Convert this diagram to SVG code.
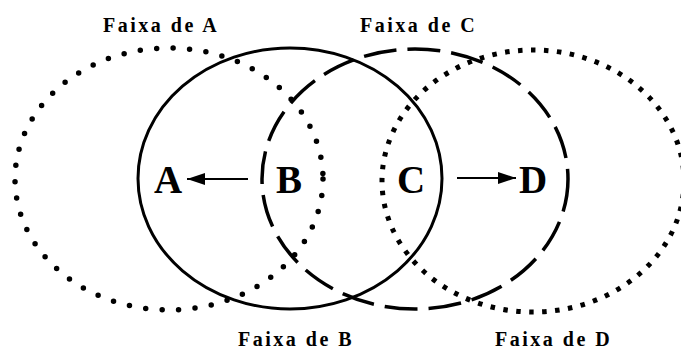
<svg xmlns="http://www.w3.org/2000/svg" width="681" height="349" viewBox="0 0 681 349">
<style>
.bg{fill:#fff}
.e{fill:none;stroke:#000}
.solid{stroke-width:3}
.dash{stroke-width:3.5;stroke-dasharray:33 11}
.dotA{stroke-width:5.5;stroke-dasharray:0 16.5;stroke-linecap:round}
.dotD{stroke-width:5;stroke-dasharray:4.5 8.5}
.big{font-family:"Liberation Serif","Times New Roman",serif;font-weight:bold;font-size:39px;text-anchor:middle;fill:#000}
.lbl{font-family:"Liberation Serif","Times New Roman",serif;font-weight:bold;font-size:20px;letter-spacing:2.5px;fill:#000}
.arr{stroke:#000;stroke-width:2;fill:none}
</style>
<defs>
<marker id="ah" viewBox="0 0 18 12" refX="18" refY="6" markerWidth="18" markerHeight="12" markerUnits="userSpaceOnUse" orient="auto">
<path d="M0,0 L18,6 L0,12 Z" fill="#000"/>
</marker>
</defs>
<rect class="bg" x="0" y="0" width="681" height="349"/>
<g id="faixa-a"><ellipse class="e dotA" cx="169" cy="179" rx="154" ry="131"/></g>
<g id="faixa-b"><ellipse class="e solid" cx="290" cy="178.5" rx="152" ry="130.5"/></g>
<g id="faixa-c"><ellipse class="e dash" cx="415" cy="179" rx="153" ry="130"/></g>
<g id="faixa-d"><ellipse class="e dotD" cx="533" cy="181" rx="151" ry="131"/></g>
<g id="connectors">
<line class="arr" x1="248" y1="179" x2="187" y2="179" marker-end="url(#ah)"/>
<line class="arr" x1="457" y1="178" x2="516" y2="178" marker-end="url(#ah)"/>
</g>
<g id="node-a"><text class="big" x="168" y="193">A</text></g>
<g id="node-b"><text class="big" x="289" y="193">B</text></g>
<g id="node-c"><text class="big" x="411" y="193">C</text></g>
<g id="node-d"><text class="big" x="533" y="193">D</text></g>
<g id="labels">
<text class="lbl" x="103" y="32">Faixa de A</text>
<text class="lbl" x="360" y="32">Faixa de C</text>
<text class="lbl" x="238" y="346">Faixa de B</text>
<text class="lbl" x="495" y="346">Faixa de D</text>
</g>
</svg>
